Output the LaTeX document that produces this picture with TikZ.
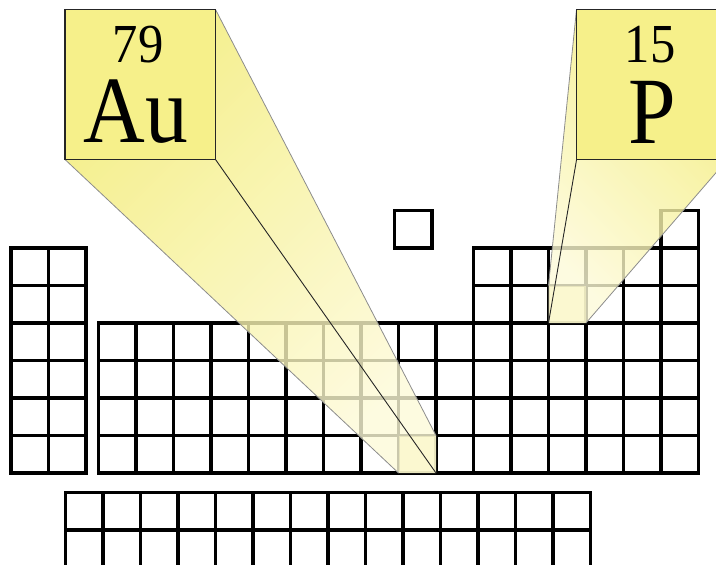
\documentclass[tikz,border=0pt]{standalone}
\usepackage{fontspec}
\setmainfont{Liberation Serif}
\definecolor{boxyellow}{RGB}{246,240,138}
\definecolor{beamnear}{RGB}{242,235,111}
\definecolor{beamfar}{RGB}{253,250,216}
\definecolor{tgtyellow}{RGB}{240,234,130}
\tikzset{
  gridline/.style={line width=3.8pt, black, line cap=rect},
  beamfill/.style={shading=axis, top color=beamnear, bottom color=beamfar, fill opacity=0.8},
  beamedge/.style={draw=black!45, line width=0.8pt},
  ridge/.style={draw=black!85, line width=0.9pt},
  tgtcell/.style={fill=tgtyellow, fill opacity=0.6},
  elembox/.style={draw=black!85, line width=1.6pt, fill=boxyellow, minimum width=150.5pt, minimum height=150pt, inner sep=0pt, outer sep=0pt, anchor=north west},
  numtext/.style={font=\fontsize{55}{55}\selectfont, anchor=base, inner sep=0pt},
  symtext/.style={font=\fontsize{95}{95}\selectfont, anchor=base, inner sep=0pt},
}
\begin{document}
\begin{tikzpicture}[x=1pt,y=-1pt]
\useasboundingbox (0,0) rectangle (716,565);
\clip (0,0) rectangle (716,565);
% ---------------- grid ----------------
% groups 1-2 (periods 2-7)
\foreach \i in {0,1,2} \draw[gridline] ({11+37.5*\i},248) -- ({11+37.5*\i},473);
\foreach \k in {0,...,6} \draw[gridline] (11,{248+37.5*\k}) -- (86,{248+37.5*\k});
% main block (periods 4-7, groups 3-18)
\foreach \i in {0,...,16} \draw[gridline] ({98.5+37.5*\i},323) -- ({98.5+37.5*\i},473);
\foreach \k in {0,...,4} \draw[gridline] (98.5,{323+37.5*\k}) -- (698.5,{323+37.5*\k});
% p block periods 2-3
\foreach \j in {0,...,6} \draw[gridline] ({473.5+37.5*\j},248) -- ({473.5+37.5*\j},323);
\foreach \k in {0,1} \draw[gridline] (473.5,{248+37.5*\k}) -- (698.5,{248+37.5*\k});
% He and H
\draw[gridline] (661,210.5) rectangle (698.5,248);
\draw[gridline] (394.5,210.5) rectangle (432,248);
% f block
\foreach \i in {0,...,14} \draw[gridline] ({65.5+37.5*\i},492.5) -- ({65.5+37.5*\i},575);
\foreach \k in {0,1} \draw[gridline] (65.5,{492.5+37.5*\k}) -- (590.5,{492.5+37.5*\k});
% ---------------- Au callout ----------------
\coordinate (auTL) at (65,9.5);
\coordinate (auTR) at (215.5,9.5);
\coordinate (auBL) at (65,159.5);
\coordinate (auBR) at (215.5,159.5);
\coordinate (cAuTL) at (398.5,435.5);
\coordinate (cAuTR) at (436,435.5);
\coordinate (cAuBL) at (398.5,473);
\coordinate (cAuBR) at (436,473);
\fill[tgtcell] (cAuTL) rectangle (cAuBR);
\shade[beamfill, shading angle=45] (auBL) -- (auBR) -- (auTR) -- (cAuTR) -- (cAuBR) -- (cAuBL) -- cycle;
\draw[beamedge] (auBL) -- (cAuBL);
\draw[beamedge] (auTR) -- (cAuTR);
\draw[ridge] (auBR) -- (cAuBR);
\node[elembox] (au) at (auTL) {};
\node[numtext] (aunum) at (138,62) {\scalebox{0.92}[1]{79}};
\node[symtext] (ausym) at (136,142.7) {\scalebox{0.9}[1]{Au}};
% ---------------- P callout ----------------
\coordinate (pTL) at (576.5,9.5);
\coordinate (pBL) at (576.5,160);
\coordinate (pBR) at (727,160);
\coordinate (cPTL) at (548.5,285.5);
\coordinate (cPBL) at (548.5,323);
\coordinate (cPBR) at (586,323);
\fill[tgtcell] (cPTL) rectangle (cPBR);
\shade[beamfill, shading angle=-45] (pTL) -- (pBL) -- (pBR) -- (cPBR) -- (cPBL) -- (cPTL) -- cycle;
\draw[beamedge] (pTL) -- (cPTL);
\draw[beamedge] (pBR) -- (cPBR);
\draw[ridge] (pBL) -- (cPBL);
\node[elembox] (p) at (pTL) {};
\node[numtext] (pnum) at (650,62) {\scalebox{0.92}[1]{15}};
\node[symtext] (psym) at (652.5,143.3) {\scalebox{0.9}[1]{P}};
\end{tikzpicture}
\end{document}
